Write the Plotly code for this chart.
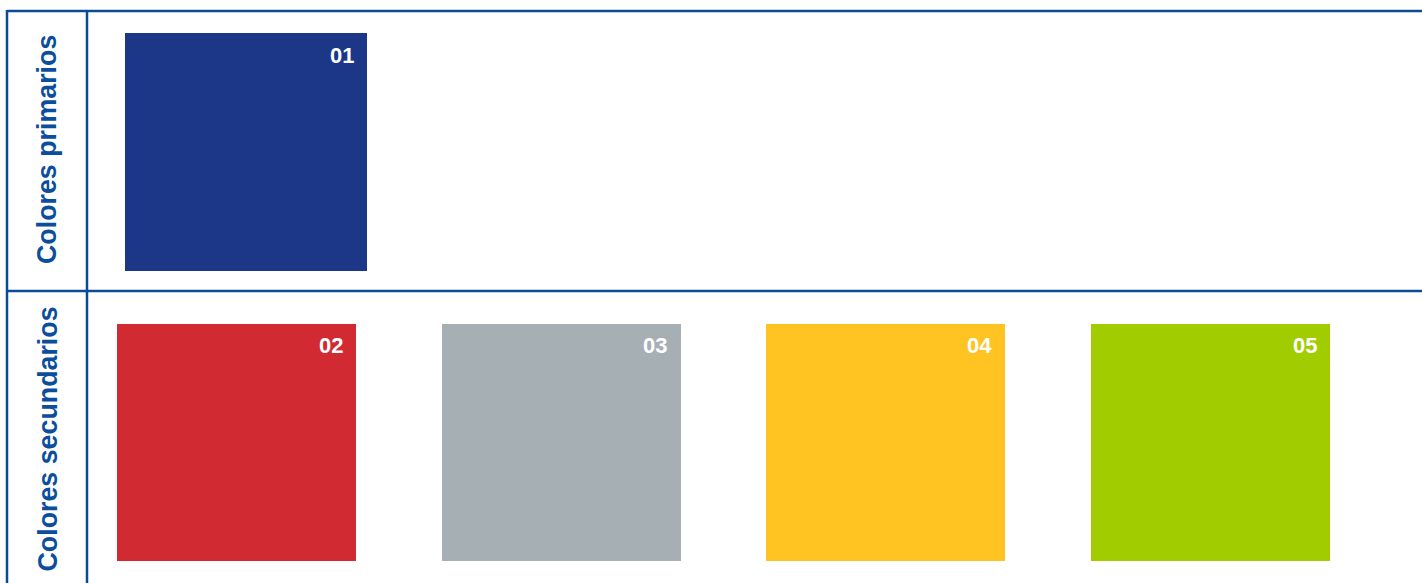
import plotly.graph_objects as go

# ---- data ----
codes = ["01", "02", "03", "04", "05"]
swatch_colors = ["#1d3788", "#d12a33", "#a6afb4", "#ffc422", "#a1cd00"]
groups = ["Colores primarios", "Colores secundarios", "Colores secundarios",
          "Colores secundarios", "Colores secundarios"]
group_names = ["Colores primarios", "Colores secundarios"]

# ---- layout constants (pixels) ----
W, H = 1422, 583
LINE_C = "#0a4b98"
TEXT_C = "#0b4e9b"
row_top = {"Colores primarios": 33, "Colores secundarios": 323.5}
row_first_left = {"Colores primarios": 125, "Colores secundarios": 117}
sw_w = {"Colores primarios": 242, "Colores secundarios": 239}
sw_h = 237.5
slot_step = 324.7
row_label_y = {"Colores primarios": 150, "Colores secundarios": 439.5}

xs, bases, hs, ws = [], [], [], []
slot_counter = {}
for code, g in zip(codes, groups):
    k = slot_counter.get(g, 0)
    slot_counter[g] = k + 1
    left = row_first_left[g] + k * slot_step
    xs.append(left + sw_w[g] / 2)
    ws.append(sw_w[g])
    bases.append(row_top[g])
    hs.append(sw_h)

fig = go.Figure()
fig.add_trace(go.Bar(
    x=xs, y=hs, base=bases, width=ws,
    marker=dict(color=swatch_colors, line=dict(width=0)),
    hoverinfo="skip", showlegend=False,
))

annotations = []
for x, b, w, code in zip(xs, bases, ws, codes):
    annotations.append(dict(
        x=x + w / 2 - 11.5, y=b + 22, xref="x", yref="y",
        text="<b>%s</b>" % code, showarrow=False, xanchor="right", yanchor="middle",
        font=dict(family="Liberation Sans, Arial", size=22, color="white"),
    ))
for g in group_names:
    annotations.append(dict(
        x=47, y=row_label_y[g], xref="x", yref="y",
        text="<b>%s</b>" % g, showarrow=False, textangle=-90,
        xanchor="center", yanchor="middle",
        font=dict(family="Liberation Sans, Arial", size=26.8, color=TEXT_C),
    ))

lw = 2.5
shapes = [
    dict(type="line", x0=7, x1=W, y0=11, y1=11, line=dict(color=LINE_C, width=lw), xref="x", yref="y"),
    dict(type="line", x0=7, x1=W, y0=291, y1=291, line=dict(color=LINE_C, width=lw), xref="x", yref="y"),
    dict(type="line", x0=7, x1=7, y0=10, y1=H, line=dict(color=LINE_C, width=lw), xref="x", yref="y"),
    dict(type="line", x0=87, x1=87, y0=10, y1=H, line=dict(color=LINE_C, width=lw), xref="x", yref="y"),
]

fig.update_layout(
    width=W, height=H,
    margin=dict(l=0, r=0, t=0, b=0),
    paper_bgcolor="white", plot_bgcolor="white",
    xaxis=dict(range=[0, W], visible=False, fixedrange=True),
    yaxis=dict(range=[H, 0], visible=False, fixedrange=True),
    shapes=shapes, annotations=annotations,
    bargap=0,
)

fig.write_html("out.html", config={"displayModeBar": False},
               post_script="document.body.style.margin='0';document.body.style.overflow='hidden';")
